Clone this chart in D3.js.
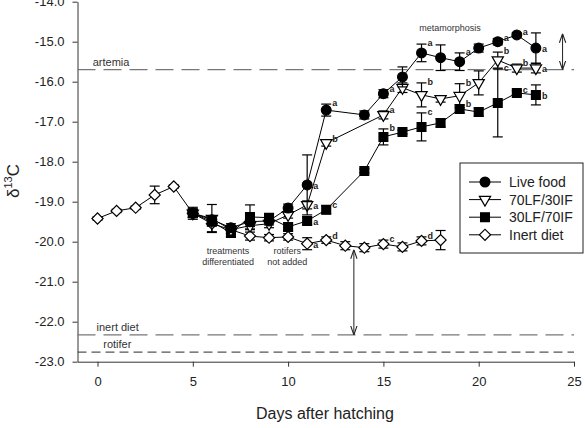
<!DOCTYPE html>
<html>
<head>
<meta charset="utf-8">
<script src="https://cdn.jsdelivr.net/npm/d3@7"></script>
<style>
  body { margin: 0; background: #fff; }
  svg { font-family: "Liberation Sans", Arial, sans-serif; }
</style>
</head>
<body>
<div id="chart"></div>
<script>
// values (delta 13C, mean and error half-width per day)
const inertDays = [0, 1, 2, 3, 4, 5, 6, 7, 8, 9, 10, 11, 12, 13, 14, 15, 16, 17, 18];
const inertMean = [-19.42, -19.23, -19.15, -18.83, -18.62, -19.29, -19.55, -19.7, -19.86, -19.9, -19.88, -20.05, -19.96, -20.1, -20.15, -20.06, -20.13, -19.98, -19.96];
const inertErr  = [0.04, 0.04, 0.04, 0.22, 0.04, 0.15, 0.2, 0.1, 0.1, 0.08, 0.08, 0.15, 0.08, 0.1, 0.1, 0.1, 0.1, 0.1, 0.24];
const inertSig  = ["", "", "", "", "", "", "", "", "", "", "", "a", "d", "", "", "c", "", "d", ""];

const lfDays = [5, 6, 7, 8, 9, 10, 11, 12, 14, 15, 16, 17, 18, 19, 20, 21, 22, 23];
const lfMean = [-19.29, -19.45, -19.65, -19.5, -19.48, -19.16, -18.58, -16.71, -16.83, -16.3, -15.88, -15.28, -15.4, -15.5, -15.16, -15.0, -14.83, -15.16];
const lfErr  = [0.1, 0.1, 0.1, 0.12, 0.1, 0.1, 0.75, 0.15, 0.1, 0.1, 0.25, 0.22, 0.32, 0.22, 0.1, 0.08, 0.05, 0.38];
const lfSig  = ["", "", "", "", "", "", "a", "a", "", "a", "", "a", "", "a", "", "a", "a", "a"];

const l70Days = [5, 6, 7, 8, 9, 10, 11, 12, 15, 16, 17, 18, 19, 20, 21, 22, 23];
const l70Mean = [-19.29, -19.42, -19.7, -19.6, -19.55, -19.33, -19.08, -17.53, -16.83, -16.15, -16.33, -16.43, -16.35, -16.03, -15.46, -15.66, -15.66];
const l70Err  = [0.1, 0.35, 0.1, 0.1, 0.1, 0.08, 0.1, 0.08, 0.1, 0.12, 0.3, 0.08, 0.3, 0.3, 0.2, 0.1, 0.12];
const l70Sig  = ["", "", "", "", "", "", "a", "b", "a", "", "b", "", "b", "", "b", "b", "a"];

const l30Days = [5, 6, 7, 8, 9, 10, 11, 12, 14, 15, 16, 17, 18, 19, 20, 21, 22, 23];
const l30Mean = [-19.29, -19.5, -19.78, -19.38, -19.4, -19.63, -19.48, -19.2, -18.23, -17.38, -17.26, -17.13, -17.03, -16.68, -16.76, -16.53, -16.28, -16.33];
const l30Err  = [0.1, 0.1, 0.1, 0.3, 0.1, 0.1, 0.1, 0.1, 0.05, 0.2, 0.05, 0.35, 0.1, 0.1, 0.1, 0.85, 0.05, 0.25];
const l30Sig  = ["", "", "", "", "", "", "a", "c", "", "b", "", "c", "", "b", "", "c", "c", "b"];

const seriesNames = ["Live food", "70LF/30IF", "30LF/70IF", "Inert diet"];

// reference lines (food isotope values)
const refNames  = ["artemia", "inert diet", "rotifer"];
const refValues = [-15.7, -22.33, -22.76];

// arrows: [day, from, to]
const arrows = [[13.45, -20.2, -22.33], [24.4, -14.8, -15.7]];

const xTicks = [0, 5, 10, 15, 20, 25];
const yTicks = [-14, -15, -16, -17, -18, -19, -20, -21, -22, -23];

const width = 585, height = 428;
const plotLeft = 77.5, plotRight = 574, plotTop = 1.7, plotBottom = 361.7;

const svg = d3.select("#chart").append("svg")
    .attr("width", width)
    .attr("height", height);

const x = d3.scaleLinear().domain([-1.05, 25]).range([plotLeft, plotRight]);
const y = d3.scaleLinear().domain([-23, -14]).range([plotBottom, plotTop]);

// axes
svg.append("g")
    .attr("transform", `translate(${plotLeft},0)`)
    .call(d3.axisLeft(y).tickValues(yTicks).tickFormat(d => d.toFixed(1)).tickSize(5).tickSizeOuter(0).tickPadding(8))
    .call(g => g.selectAll("text").attr("font-size", 13).attr("fill", "#222"))
    .call(g => g.selectAll("line,path").attr("stroke", "#333"));

svg.append("g")
    .attr("transform", `translate(0,${plotBottom})`)
    .call(d3.axisBottom(x).tickValues(xTicks).tickSize(5).tickSizeOuter(0).tickPadding(10))
    .call(g => g.selectAll("text").attr("font-size", 13).attr("fill", "#222"))
    .call(g => g.selectAll("line,path").attr("stroke", "#333"));

svg.append("text")
    .attr("x", 325).attr("y", 419)
    .attr("text-anchor", "middle")
    .attr("font-size", 16).attr("fill", "#222")
    .text("Days after hatching");

const ylab = svg.append("text")
    .attr("transform", "translate(19,181) rotate(-90)")
    .attr("text-anchor", "middle")
    .attr("font-size", 17).attr("fill", "#222");
ylab.append("tspan").text("δ");
ylab.append("tspan").attr("font-size", 11).attr("dy", -7).text("13");
ylab.append("tspan").attr("dy", 7).text("C");

// dashed reference lines
const dashes = ["18,8", "18,8", "9,5"];
const labelDay = [-0.25, -0.05, 0.3];
refValues.forEach((v, i) => {
  svg.append("line")
      .attr("x1", plotLeft).attr("x2", plotRight)
      .attr("y1", y(v)).attr("y2", y(v))
      .attr("stroke", i == 2 ? "#555" : "#777")
      .attr("stroke-width", 1.2)
      .attr("stroke-dasharray", dashes[i]);
  svg.append("text")
      .attr("x", x(labelDay[i])).attr("y", y(v) - 4)
      .attr("font-size", 11).attr("fill", "#333")
      .text(refNames[i]);
});

// arrows
const defs = svg.append("defs");
["start", "end"].forEach(k => {
  defs.append("marker")
      .attr("id", "head-" + k)
      .attr("viewBox", "0 0 10 10")
      .attr("refX", 10).attr("refY", 5)
      .attr("markerWidth", 9).attr("markerHeight", 9)
      .attr("orient", k == "start" ? "auto-start-reverse" : "auto")
    .append("path")
      .attr("d", "M0,1.5 L10,5 L0,8.5")
      .attr("fill", "none").attr("stroke", "#222").attr("stroke-width", 1.2);
});
arrows.forEach(a => {
  svg.append("line")
      .attr("x1", x(a[0])).attr("x2", x(a[0]))
      .attr("y1", y(a[1])).attr("y2", y(a[2]))
      .attr("stroke", "#222")
      .attr("marker-start", "url(#head-start)")
      .attr("marker-end", "url(#head-end)");
});

// small notes
const note = (tx, ty, lines) => {
  const t = svg.append("text").attr("text-anchor", "middle").attr("font-size", 9).attr("fill", "#333");
  lines.forEach((s, i) => t.append("tspan").attr("x", tx).attr("y", ty + i * 11).text(s));
};
note(x(6.85), 254, ["treatments", "differentiated"]);
note(x(9.95), 254, ["rotifers", "not added"]);
note(x(18.5), 31, ["metamorphosis"]);

// symbols
const symCircle = d3.symbol().type(d3.symbolCircle).size(75)();
const symTri = d3.symbol().type(d3.symbolTriangle).size(55)();
const symSquare = d3.symbol().type(d3.symbolSquare).size(78)();
const symDiamond = d3.symbol().type(d3.symbolSquare).size(62)();

const series = [
  {days: inertDays, mean: inertMean, err: inertErr, sig: inertSig, path: symDiamond, fill: "#fff", rot: 45},
  {days: l30Days, mean: l30Mean, err: l30Err, sig: l30Sig, path: symSquare, fill: "#000", rot: 0},
  {days: l70Days, mean: l70Mean, err: l70Err, sig: l70Sig, path: symTri, fill: "#fff", rot: 180},
  {days: lfDays, mean: lfMean, err: lfErr, sig: lfSig, path: symCircle, fill: "#000", rot: 0}
];

const line = d3.line().x(d => x(d[0])).y(d => y(d[1]));

series.forEach(s => {
  const pts = s.days.map((d, i) => [d, s.mean[i], s.err[i], s.sig[i]]);
  svg.append("path")
      .attr("d", line(pts))
      .attr("fill", "none").attr("stroke", "#000").attr("stroke-width", 1);
});

series.forEach(s => {
  const pts = s.days.map((d, i) => [d, s.mean[i], s.err[i], s.sig[i]]);
  const g = svg.append("g");
  const eb = g.selectAll("g.eb").data(pts).join("g").attr("stroke", "#000").attr("stroke-width", 1.2);
  eb.append("line")
      .attr("x1", d => x(d[0])).attr("x2", d => x(d[0]))
      .attr("y1", d => y(d[1] + d[2])).attr("y2", d => y(d[1] - d[2]));
  eb.append("line")
      .attr("x1", d => x(d[0]) - 5).attr("x2", d => x(d[0]) + 5)
      .attr("y1", d => y(d[1] + d[2])).attr("y2", d => y(d[1] + d[2]));
  eb.append("line")
      .attr("x1", d => x(d[0]) - 5).attr("x2", d => x(d[0]) + 5)
      .attr("y1", d => y(d[1] - d[2])).attr("y2", d => y(d[1] - d[2]));
  g.selectAll("path").data(pts).join("path")
      .attr("d", s.path)
      .attr("transform", d => `translate(${x(d[0])},${y(d[1])}) rotate(${s.rot})`)
      .attr("fill", s.fill).attr("stroke", "#000").attr("stroke-width", 1.2);
  g.selectAll("text").data(pts.filter(d => d[3])).join("text")
      .attr("x", d => x(d[0]) + 6)
      .attr("y", d => (d[0] == 11 || d[0] == 23) ? y(d[1]) + 4 : y(d[1] + d[2]) + 2)
      .attr("font-size", 9).attr("font-weight", "bold").attr("fill", "#222")
      .text(d => d[3]);
});

// legend
const lg = svg.append("g").attr("transform", "translate(460,163)");
lg.append("rect").attr("width", 123).attr("height", 90)
    .attr("fill", "#fff").attr("stroke", "#222");
const legendOrder = [3, 2, 1, 0];
legendOrder.forEach((si, i) => {
  const s = series[si];
  const ly = 19 + i * 17.6;
  lg.append("line").attr("x1", 9).attr("x2", 41).attr("y1", ly).attr("y2", ly).attr("stroke", "#000");
  lg.append("path").attr("d", s.path)
      .attr("transform", `translate(25,${ly}) rotate(${s.rot})`)
      .attr("fill", s.fill).attr("stroke", "#000").attr("stroke-width", 1.2);
  lg.append("text").attr("x", 49).attr("y", ly + 5)
      .attr("font-size", 14).attr("fill", "#222")
      .text(seriesNames[i]);
});
</script>
</body>
</html>
